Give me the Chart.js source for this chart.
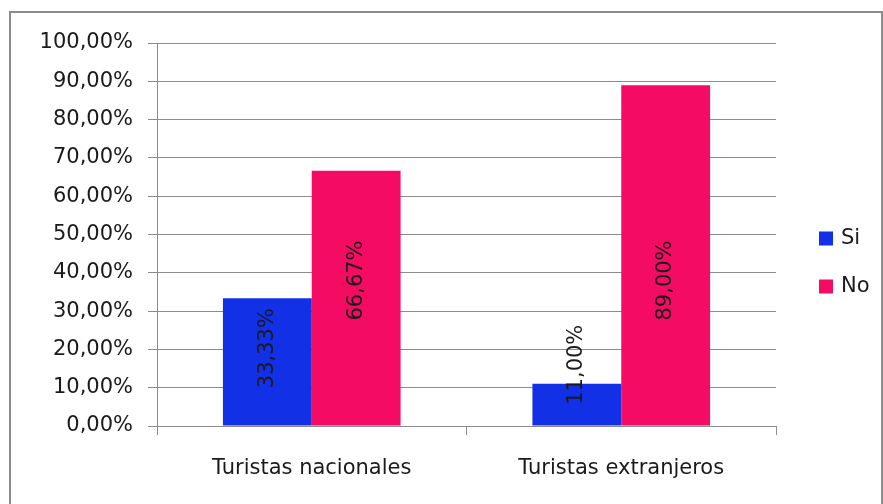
<!DOCTYPE html>
<html>
<head>
<meta charset="utf-8">
<script src="https://cdn.jsdelivr.net/npm/chart.js@4/dist/chart.umd.min.js"></script>
<style>
  body { margin: 0; background: #fff; }
  #frame { position: absolute; left: 9px; top: 11px; width: 870px; height: 500px; border: 2px solid #8c8c8c; }
  #wrap { position: absolute; left: 0; top: 0; width: 883px; height: 504px; }
</style>
</head>
<body>
<div id="frame"></div>
<div id="wrap"><canvas id="chart"></canvas></div>
<script>
const categories = ["Turistas nacionales", "Turistas extranjeros"];
const siValues = [33.33, 11.00];
const noValues = [66.67, 89.00];
const yTicks = [0, 10, 20, 30, 40, 50, 60, 70, 80, 90, 100];

const FONT = "'DejaVu Sans', sans-serif";

function pct(v) {
    return v.toFixed(2).replace(".", ",") + "%";
}

// vertical labels inside the bars
const barLabels = {
    id: "barLabels",
    afterDatasetsDraw(chart) {
        const ctx = chart.ctx;
        const y = chart.scales.y;
        ctx.save();
        ctx.font = "21px " + FONT;
        ctx.fillStyle = "#1a1a1a";
        ctx.textAlign = "center";
        ctx.textBaseline = "middle";
        chart.data.datasets.forEach((ds, di) => {
            chart.getDatasetMeta(di).data.forEach((bar, i) => {
                const v = ds.data[i];
                const mid = Math.min(38, Math.max(16, v - 13));
                ctx.save();
                ctx.translate(bar.x, y.getPixelForValue(mid));
                ctx.rotate(-Math.PI / 2);
                ctx.fillText(pct(v), 0, 0);
                ctx.restore();
            });
        });
        ctx.restore();
    }
};

// legend on the right, boxes + names
const sideLegend = {
    id: "sideLegend",
    afterDraw(chart) {
        const ctx = chart.ctx;
        const left = chart.chartArea.right + 43;
        const mid = (chart.chartArea.top + chart.chartArea.bottom) / 2 + 28;
        ctx.save();
        ctx.font = "21px " + FONT;
        ctx.textBaseline = "middle";
        chart.data.datasets.forEach((ds, i) => {
            const cy = mid + (i - 0.5) * 48;
            ctx.fillStyle = ds.backgroundColor;
            ctx.fillRect(left, cy - 7, 14, 14);
            ctx.fillStyle = "#1a1a1a";
            ctx.fillText(ds.label, left + 22, cy);
        });
        ctx.restore();
    }
};

new Chart(document.getElementById("chart").getContext("2d"), {
    type: "bar",
    data: {
        labels: categories,
        datasets: [
            { label: "Si", data: siValues, backgroundColor: "#1230e6" },
            { label: "No", data: noValues, backgroundColor: "#f40b63" }
        ]
    },
    options: {
        responsive: true,
        maintainAspectRatio: false,
        animation: false,
        layout: { padding: { left: 0, right: 107, top: 43, bottom: 0 } },
        datasets: { bar: { categoryPercentage: 0.574, barPercentage: 1 } },
        plugins: { legend: { display: false }, tooltip: { enabled: false } },
        scales: {
            x: {
                grid: { drawOnChartArea: false, tickLength: 9, color: "#8c8c8c", lineWidth: 1 },
                border: { color: "#8c8c8c" },
                ticks: { font: { family: FONT, size: 21 }, color: "#1a1a1a", padding: 21 },
                afterFit(scale) { scale.height = 78; }
            },
            y: {
                min: 0,
                max: 100,
                afterBuildTicks(scale) { scale.ticks = yTicks.map(v => ({ value: v })); },
                grid: { tickLength: 9, color: "#8c8c8c", lineWidth: 1 },
                border: { color: "#8c8c8c" },
                ticks: { font: { family: FONT, size: 21 }, color: "#1a1a1a", padding: 15, callback: v => pct(v) },
                afterFit(scale) { scale.width = 157; }
            }
        }
    },
    plugins: [barLabels, sideLegend]
});
</script>
</body>
</html>
